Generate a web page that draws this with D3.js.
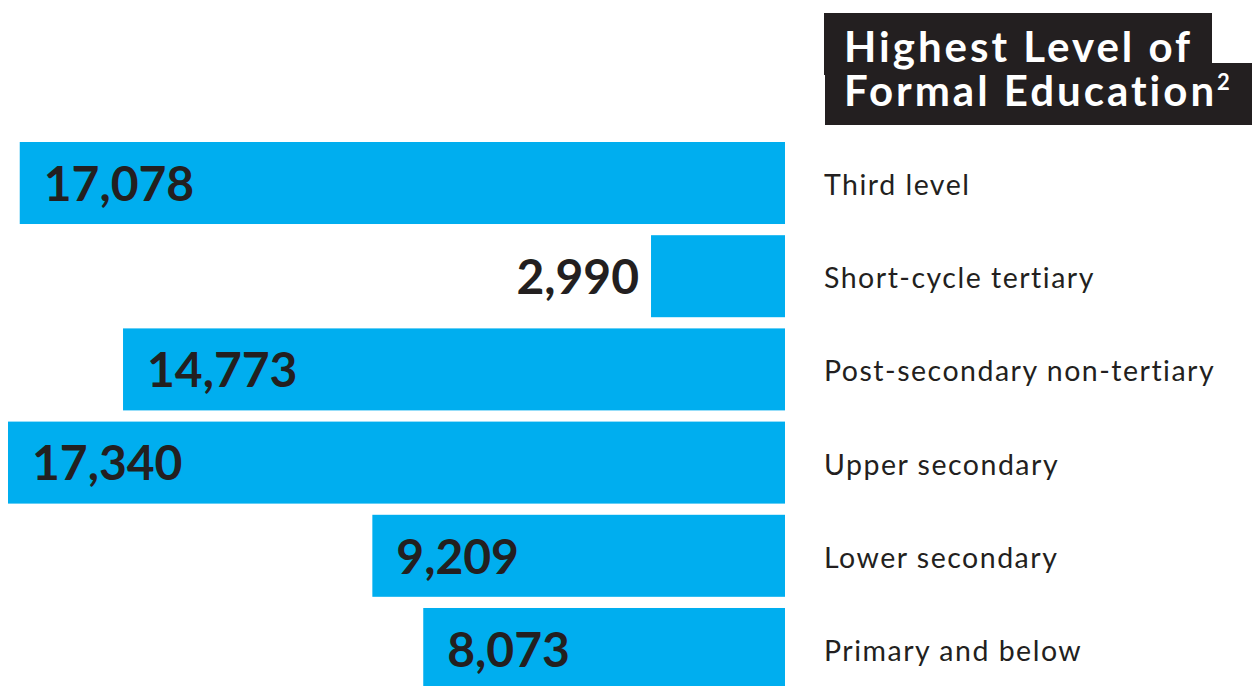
<!DOCTYPE html>
<html>
<head>
<meta charset="utf-8">
<script src="https://cdn.jsdelivr.net/npm/d3@7"></script>
<style>
  body { margin: 0; background: #fff; }
  svg { display: block; }
</style>
</head>
<body>
<div id="chart"></div>
<script>
// data
const categories = ["Third level", "Short-cycle tertiary", "Post-secondary non-tertiary",
    "Upper secondary", "Lower secondary", "Primary and below"];
const values = [17078, 2990, 14773, 17340, 9209, 8073];
const titleLines = ["Highest Level of", "Formal Education"];

const width = 1252, height = 686;
const barColor = "#00aeef", ink = "#231f20";

const svg = d3.select("#chart")
    .append("svg")
    .attr("width", width)
    .attr("height", height);

// bars grow leftward from x=785
const x = d3.scaleLinear()
    .domain([0, d3.max(values)])
    .range([785, 8]);

const y = d3.scaleBand()
    .domain(categories)
    .range([142, 690])
    .paddingInner(0.12)
    .paddingOuter(0);

const rows = categories.map((c, i) => ({ name: c, value: values[i] }));

svg.selectAll("rect.bar")
    .data(rows)
    .join("rect")
    .attr("class", "bar")
    .attr("x", d => x(d.value))
    .attr("y", d => y(d.name))
    .attr("width", d => x(0) - x(d.value))
    .attr("height", y.bandwidth())
    .attr("fill", barColor);

// value labels: inside bar at left, or outside when bar is short
const fmt = d3.format(",");
const inside = d => (x(0) - x(d.value)) > 200;
svg.selectAll("text.value")
    .data(rows)
    .join("text")
    .attr("class", "value")
    .attr("x", d => inside(d) ? x(d.value) + 24 : x(d.value) - 12)
    .attr("y", d => y(d.name) + y.bandwidth() / 2)
    .attr("dy", "0.37em")
    .attr("text-anchor", d => inside(d) ? "start" : "end")
    .attr("fill", ink)
    .style("font-family", "Lato, sans-serif")
    .style("font-weight", 700)
    .style("font-size", "48px")
    .text(d => fmt(d.value));

// category labels
svg.selectAll("text.cat")
    .data(rows)
    .join("text")
    .attr("class", "cat")
    .attr("x", 824)
    .attr("y", d => y(d.name) + y.bandwidth() / 2)
    .attr("dy", "0.42em")
    .attr("fill", ink)
    .style("font-family", "Lato, sans-serif")
    .style("font-size", "28.5px")
    .style("letter-spacing", "1.5px")
    .text(d => d.name);

// title block
const title = svg.append("g");
title.append("rect")
    .attr("x", 824).attr("y", 13)
    .attr("width", 388).attr("height", 62)
    .attr("fill", ink);
title.append("rect")
    .attr("x", 825).attr("y", 63)
    .attr("width", 427).attr("height", 62)
    .attr("fill", ink);

const titleStyle = sel => sel
    .attr("fill", "#fff")
    .style("font-family", "Lato, sans-serif")
    .style("font-weight", 700)
    .style("font-size", "42px")
    .style("letter-spacing", "3px");

title.append("text")
    .attr("x", 844).attr("y", 62)
    .call(titleStyle)
    .text(titleLines[0]);

const t2 = title.append("text")
    .attr("x", 844).attr("y", 106)
    .call(titleStyle)
    .text(titleLines[1]);
t2.append("tspan")
    .attr("dy", -16)
    .style("font-size", "22px")
    .style("letter-spacing", "0px")
    .text("2");
</script>
</body>
</html>
